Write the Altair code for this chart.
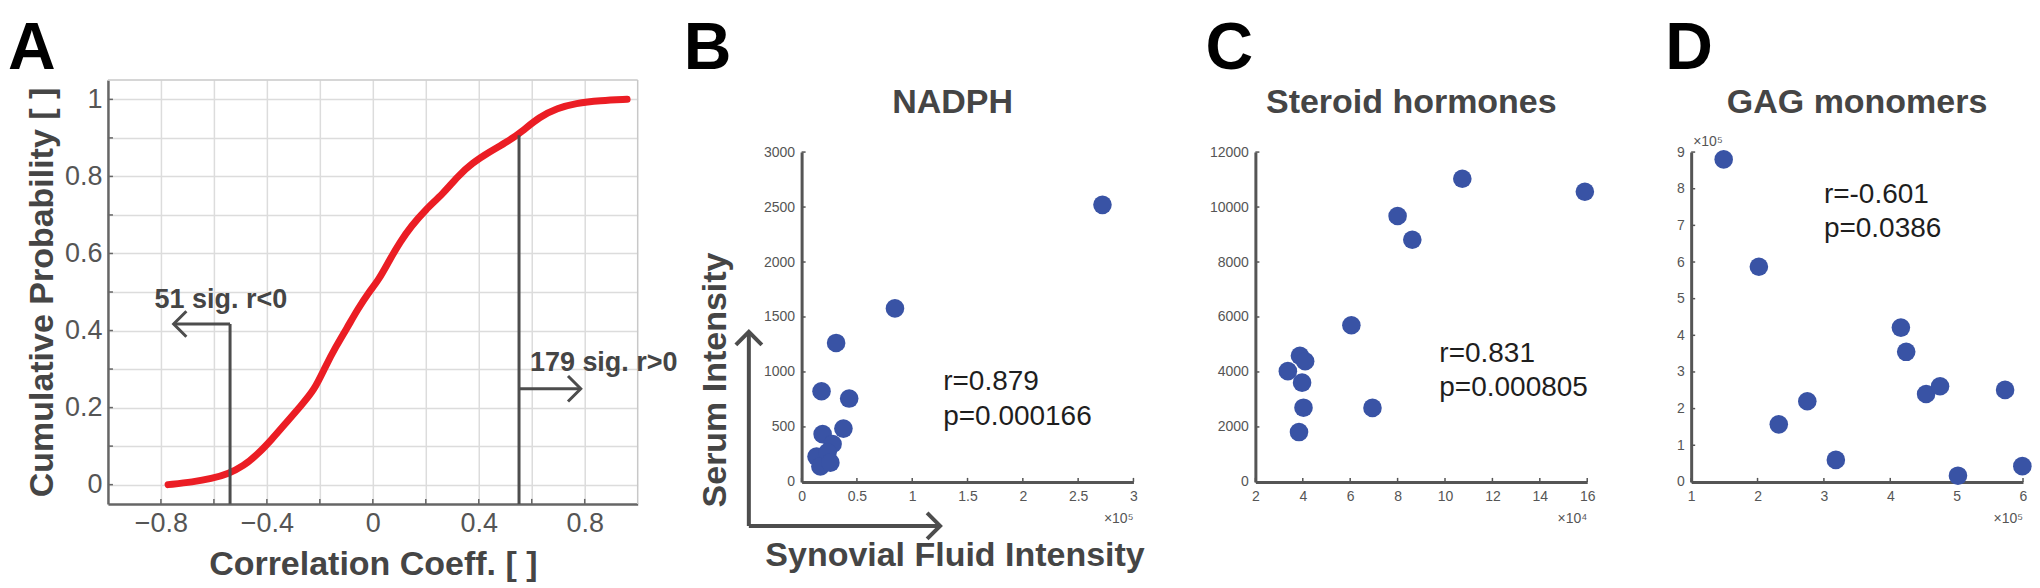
import altair as alt
import pandas as pd

FONT = "Liberation Sans"
TXT = "#454545"
AXC = "#555555"
BLUE = "#3953A5"
RED = "#EB1D24"
ANN = "#4d4d4d"

# ---------------- Panel A: cumulative distribution ----------------
cdf_r = [-0.773, -0.678, -0.611, -0.543, -0.489, -0.436, -0.382, -0.328, -0.274, -0.220,
         -0.179, -0.139, -0.098, -0.058, -0.018, 0.023, 0.063, 0.104, 0.144, 0.198,
         0.266, 0.320, 0.374, 0.441, 0.508, 0.562, 0.630, 0.697, 0.765, 0.859, 0.960]
cdf_p = [0.000, 0.007, 0.015, 0.029, 0.048, 0.078, 0.117, 0.160, 0.203, 0.246,
         0.307, 0.359, 0.406, 0.454, 0.497, 0.532, 0.583, 0.631, 0.670, 0.713,
         0.756, 0.800, 0.834, 0.864, 0.890, 0.916, 0.955, 0.977, 0.990, 0.997, 1.000]
a_xticks = [-0.8, -0.6, -0.4, -0.2, 0.0, 0.2, 0.4, 0.6, 0.8]
a_yticks = [0.0, 0.1, 0.2, 0.3, 0.4, 0.5, 0.6, 0.7, 0.8, 0.9, 1.0]
a_xdom = [-1.0, 1.0]
a_ydom = [-0.05, 1.05]
a_frame_x1 = [-1.0, 1.0]
a_frame_y1 = [1.05, -0.05]
a_frame_x2 = [1.0, 1.0]
a_frame_y2 = [1.05, 1.05]
a_seg_x1 = [-0.539, -0.539, 0.552, 0.552]
a_seg_y1 = [-0.05, 0.417, -0.05, 0.249]
a_seg_x2 = [-0.539, -0.752, 0.552, 0.785]
a_seg_y2 = [0.417, 0.417, 0.907, 0.249]
a_head_x = [-0.752, 0.785]
a_head_y = [0.417, 0.249]
a_head_ang = [180, 0]
a_lab_x = [-0.824, 0.593]
a_lab_y = [0.48, 0.315]
a_lab_t = ["51 sig. r<0", "179 sig. r>0"]

# ---------------- Panel B: NADPH ----------------
b_x = [2.72, 0.844, 0.312, 0.18, 0.43, 0.378, 0.19, 0.28, 0.135, 0.235, 0.17, 0.26]
b_y = [2520, 1578, 1264, 825, 758, 485, 435, 345, 230, 270, 140, 175]
b_xticks = [0, 0.5, 1, 1.5, 2, 2.5, 3]
b_yticks = [0, 500, 1000, 1500, 2000, 2500, 3000]
b_ann_x = [1.28, 1.28]
b_ann_y = [909, 591]
b_ann_t = ["r=0.879", "p=0.000166"]
b_exp = "×10⁵"

# ---------------- Panel C: Steroid hormones ----------------
c_x = [10.73, 15.9, 8.0, 8.62, 6.05, 3.88, 4.1, 3.37, 3.97, 4.03, 6.94, 3.84]
c_y = [11028, 10555, 9675, 8809, 5700, 4590, 4390, 4030, 3612, 2700, 2693, 1813]
c_xticks = [2, 4, 6, 8, 10, 12, 14, 16]
c_yticks = [0, 2000, 4000, 6000, 8000, 10000, 12000]
c_ann_x = [9.76, 9.76]
c_ann_y = [4655, 3418]
c_ann_t = ["r=0.831", "p=0.000805"]
c_exp = "×10⁴"

# ---------------- Panel D: GAG monomers ----------------
d_x = [1.49, 2.02, 2.32, 2.75, 3.18, 4.16, 4.24, 4.54, 4.75, 5.02, 5.73, 5.99]
d_y = [8.8, 5.87, 1.57, 2.20, 0.60, 4.21, 3.55, 2.40, 2.61, 0.17, 2.51, 0.43]
d_xticks = [1, 2, 3, 4, 5, 6]
d_yticks = [0, 1, 2, 3, 4, 5, 6, 7, 8, 9]
d_ann_x = [3.0, 3.0]
d_ann_y = [7.83, 6.90]
d_ann_t = ["r=-0.601", "p=0.0386"]
d_exp = "×10⁵"

# B-panel axis-label decorations (in NADPH data units)
b_arrow_x1 = [-0.477, -0.477]
b_arrow_y1 = [-400, -400]
b_arrow_x2 = [-0.477, 1.252]
b_arrow_y2 = [1364, -400]
b_head_ang = [270, 0]

CHEVRON = "M-1,-1L0,0L-1,1"
LETTER_Y = -11
TOP_PAD = 8

# =============== Panel A ===============
AW, AH, AR = 694, 424, 530
axs = alt.Scale(domain=a_xdom, range=[0, AR], nice=False, zero=False)
ays = alt.Scale(domain=a_ydom, nice=False, zero=False)
a_xaxis = alt.Axis(values=a_xticks, format="~g",
                   labelExpr="abs(round(datum.value*10)) % 4 == 0 ? datum.label : ''",
                   title="Correlation Coeff. [ ]", titleFont=FONT, titleFontSize=34,
                   titleFontWeight="bold", titleColor=TXT, titlePadding=11,
                   labelFont=FONT, labelFontSize=27, labelColor="#555555", labelPadding=7,
                   labelFlush=False, labelOverlap=False, grid=True, gridColor="#dcdcdc",
                   gridWidth=1.5, tickSize=0, domainColor="#666666", domainWidth=2.5)
a_yaxis = alt.Axis(values=a_yticks, format="~g",
                   labelExpr="round(datum.value*10) % 2 == 0 ? datum.label : ''",
                   title="Cumulative Probability [ ]", titleFont=FONT, titleFontSize=34,
                   titleFontWeight="bold", titleColor=TXT, titlePadding=5,
                   labelFont=FONT, labelFontSize=27, labelColor="#555555", labelPadding=6,
                   labelFlush=False, labelOverlap=False, grid=True, gridColor="#dcdcdc",
                   gridWidth=1.5, tickSize=0, domainColor="#666666", domainWidth=2.5)


def AX(f):
    return alt.X(f"{f}:Q", scale=axs, axis=a_xaxis)


def AY(f):
    return alt.Y(f"{f}:Q", scale=ays, axis=a_yaxis)


dfA = pd.DataFrame({"r": cdf_r, "p": cdf_p})
a_frame = alt.Chart(pd.DataFrame({"x1": a_frame_x1, "y1": a_frame_y1, "x2": a_frame_x2, "y2": a_frame_y2})
                    ).mark_rule(color="#c8c8c8", strokeWidth=1.5).encode(
    x=AX("x1"), y=AY("y1"), x2="x2:Q", y2="y2:Q")
a_xt = alt.Chart(pd.DataFrame({"v": a_xticks})).mark_rule(color="#666666", strokeWidth=1.5).encode(
    x=AX("v"), y=alt.value(AH), y2=alt.value(AH - 5))
a_yt = alt.Chart(pd.DataFrame({"v": a_yticks})).mark_rule(color="#666666", strokeWidth=1.5).encode(
    y=AY("v"), x=alt.value(0), x2=alt.value(5))
a_line = alt.Chart(dfA).mark_line(color=RED, strokeWidth=7, interpolate="basis",
                                  strokeCap="round").encode(x=AX("r"), y=AY("p"))
a_segs = alt.Chart(pd.DataFrame({"x1": a_seg_x1, "y1": a_seg_y1, "x2": a_seg_x2, "y2": a_seg_y2})
                   ).mark_rule(color=ANN, strokeWidth=3).encode(
    x=AX("x1"), y=AY("y1"), x2="x2:Q", y2="y2:Q")
a_heads = alt.Chart(pd.DataFrame({"x": a_head_x, "y": a_head_y, "a": a_head_ang})).mark_point(
    shape=CHEVRON, filled=False, size=650, strokeWidth=3, color=ANN, opacity=1).encode(
    x=AX("x"), y=AY("y"), angle=alt.Angle("a:Q", scale=None))
a_text = alt.Chart(pd.DataFrame({"x": a_lab_x, "y": a_lab_y, "t": a_lab_t})).mark_text(
    font=FONT, fontSize=27, fontWeight="bold", color=TXT, align="left", baseline="middle").encode(
    x=AX("x"), y=AY("y"), text="t:N")
a_letter = alt.Chart(pd.DataFrame({"t": ["A"]})).mark_text(
    font=FONT, fontSize=66, fontWeight="bold", color="black", align="left",
    baseline="alphabetic").encode(x=alt.value(-100), y=alt.value(LETTER_Y), text="t:N")

panelA = alt.layer(a_frame, a_xt, a_yt, a_line, a_segs, a_heads, a_text, a_letter).properties(
    width=AW, height=AH)

# =============== Scatter panels ===============
PR, PH, PTOP = 332, 402, 72


def scatter_panel(xs_, ys_, xdom, xticks, ydom, yticks, vw, ann_x, ann_y, ann_t,
                  title, title_cx, letter, letter_x, exp_t, extra=None, ytop_exp=False):
    xs = alt.Scale(domain=xdom, range=[0, PR], nice=False, zero=False)
    ys = alt.Scale(domain=ydom, range=[PH, PTOP], nice=False, zero=False)
    xaxis = alt.Axis(values=xticks, format="~g", title=None, grid=False, tickSize=0,
                     labelFont=FONT, labelFontSize=14, labelColor="#555555", labelPadding=8,
                     labelFlush=False, labelOverlap=False, domainColor=AXC, domainWidth=3)
    yaxis = alt.Axis(values=yticks, format="d", title=None, grid=False, tickSize=0,
                     labelFont=FONT, labelFontSize=14, labelColor="#555555", labelPadding=7,
                     labelFlush=False, labelOverlap=False, domainColor=AXC, domainWidth=3)

    def X(f):
        return alt.X(f"{f}:Q", scale=xs, axis=xaxis)

    def Y(f):
        return alt.Y(f"{f}:Q", scale=ys, axis=yaxis)

    pts = alt.Chart(pd.DataFrame({"x": xs_, "y": ys_})).mark_circle(
        color=BLUE, size=346, opacity=1).encode(x=X("x"), y=Y("y"))
    xt = alt.Chart(pd.DataFrame({"v": xticks})).mark_rule(color=AXC, strokeWidth=1.5).encode(
        x=X("v"), y=alt.value(PH), y2=alt.value(PH - 4))
    yt = alt.Chart(pd.DataFrame({"v": yticks})).mark_rule(color=AXC, strokeWidth=1.5).encode(
        y=Y("v"), x=alt.value(0), x2=alt.value(4))
    ann = alt.Chart(pd.DataFrame({"x": ann_x, "y": ann_y, "t": ann_t})).mark_text(
        font=FONT, fontSize=28, color="#1e1e1e", align="left", baseline="middle").encode(
        x=X("x"), y=Y("y"), text="t:N")
    expx = alt.Chart(pd.DataFrame({"x": [xdom[1]], "t": [exp_t]})).mark_text(
        font=FONT, fontSize=14, color="#555555", align="right", baseline="middle").encode(
        x=X("x"), y=alt.value(PH + 37), text="t:N")
    ttl = alt.Chart(pd.DataFrame({"t": [title]})).mark_text(
        font=FONT, fontSize=34, fontWeight="bold", color=TXT, align="center",
        baseline="middle").encode(x=alt.value(title_cx), y=alt.value(23), text="t:N")
    let = alt.Chart(pd.DataFrame({"t": [letter]})).mark_text(
        font=FONT, fontSize=66, fontWeight="bold", color="black", align="left",
        baseline="alphabetic").encode(x=alt.value(letter_x), y=alt.value(LETTER_Y), text="t:N")
    layers = [xt, yt, pts, ann, expx, ttl, let]
    if ytop_exp:
        ye = alt.Chart(pd.DataFrame({"x": [xdom[0]], "t": [exp_t]})).mark_text(
            font=FONT, fontSize=14, color="#555555", align="left", baseline="middle",
            dx=2).encode(x=X("x"), y=alt.value(PTOP - 10), text="t:N")
        layers.append(ye)
    if extra is not None:
        layers += extra(X, Y)
    return alt.layer(*layers).properties(width=vw, height=PH)


def b_extra(X, Y):
    arr = alt.Chart(pd.DataFrame({"x1": b_arrow_x1, "y1": b_arrow_y1,
                                  "x2": b_arrow_x2, "y2": b_arrow_y2})).mark_rule(
        color=ANN, strokeWidth=4).encode(x=X("x1"), y=Y("y1"), x2="x2:Q", y2="y2:Q")
    hd = alt.Chart(pd.DataFrame({"x": b_arrow_x2, "y": b_arrow_y2, "a": b_head_ang})).mark_point(
        shape=CHEVRON, filled=False, size=676, strokeWidth=4, color=ANN, opacity=1).encode(
        x=X("x"), y=Y("y"), angle=alt.Angle("a:Q", scale=None))
    serum = alt.Chart(pd.DataFrame({"x": [-0.775], "y": [927], "t": ["Serum Intensity"]})).mark_text(
        font=FONT, fontSize=34, fontWeight="bold", color=TXT, angle=270, align="center",
        baseline="middle").encode(x=X("x"), y=Y("y"), text="t:N")
    syn = alt.Chart(pd.DataFrame({"x": [1.387], "y": [-673], "t": ["Synovial Fluid Intensity"]})).mark_text(
        font=FONT, fontSize=34, fontWeight="bold", color=TXT, align="center",
        baseline="middle").encode(x=X("x"), y=Y("y"), text="t:N")
    return [arr, hd, serum, syn]


panelB = scatter_panel(b_x, b_y, [0, 3], b_xticks, [0, 3000], b_yticks, 454,
                       b_ann_x, b_ann_y, b_ann_t, "NADPH", 151, "B", -118, b_exp, extra=b_extra)
panelC = scatter_panel(c_x, c_y, [2, 16], c_xticks, [0, 12000], c_yticks, 436,
                       c_ann_x, c_ann_y, c_ann_t, "Steroid hormones", 156, "C", -50, c_exp)
panelD = scatter_panel(d_x, d_y, [1, 6], d_xticks, [0, 9], d_yticks, 332,
                       d_ann_x, d_ann_y, d_ann_t, "GAG monomers", 166, "D", -26, d_exp,
                       ytop_exp=True)

chart = alt.hconcat(panelA, panelB, panelC, panelD, spacing=0, bounds="flush").properties(
    padding={"left": 0, "top": TOP_PAD, "right": 0, "bottom": 0}
).configure_view(stroke=None)

chart.save("out.html", embed_options={"renderer": "svg", "actions": False})
